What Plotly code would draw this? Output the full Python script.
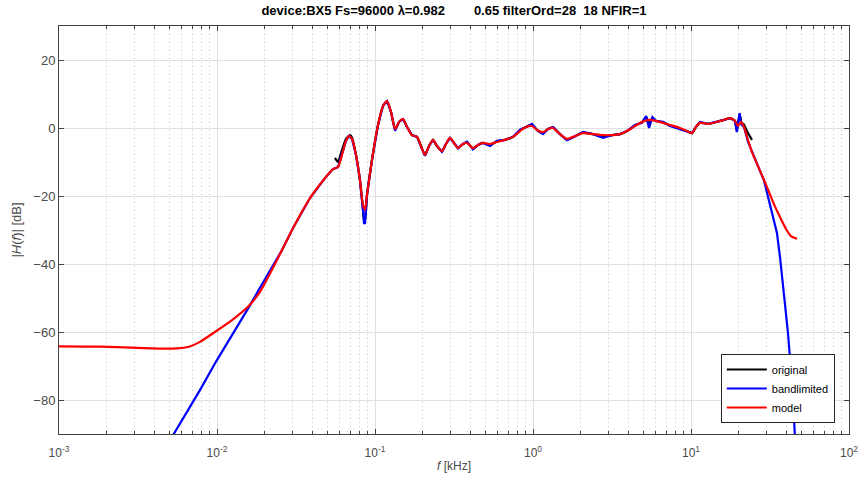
import plotly.graph_objects as go

# ---- data (frequency in kHz, magnitude in dB) ----
orig_f = [0.0558, 0.0583, 0.0618, 0.0655, 0.0695, 0.0715, 0.0758, 0.0803, 0.0839, 0.0852, 0.0865,
          0.0890, 0.0957, 0.1045, 0.1124, 0.1191, 0.1263, 0.1340, 0.142, 0.1504, 0.1595, 0.1715,
          0.1844, 0.1955, 0.2072, 0.2197, 0.2329, 0.2468, 0.2654, 0.2813, 0.2983, 0.3162, 0.3352,
          0.3605, 0.3821, 0.4169, 0.4484, 0.4823, 0.5349, 0.5916, 0.6651, 0.7472, 0.8279, 0.9032,
          0.9858, 1.06, 1.157, 1.245, 1.339, 1.483, 1.641, 1.845, 2.071, 2.398, 2.773, 3.162,
          3.555, 3.936, 4.426, 4.899, 5.2, 5.423, 5.7, 5.999, 6.65, 7.36, 8.51, 9.44, 10.15,
          10.75, 11.40, 12.82, 14.63, 16.19, 17.66, 18.98, 19.5, 20.3, 20.9, 21.64, 22.94, 24.32]
orig_db = [-8.8, -10.0, -6.5, -3.2, -2.1, -2.8, -7.9, -15.3, -24.0, -27.0, -27.0,
           -19.7, -9.4, 0.9, 6.5, 7.9, 4.7, -0.5, 1.8, 2.6, 0.3, -2.1,
           -2.6, -5.3, -8.0, -5.3, -3.5, -5.3, -6.9, -4.7, -2.9, -4.4, -5.9,
           -4.7, -4.2, -6.1, -5.0, -4.4, -5.0, -3.9, -3.5, -2.6, -0.7, 0.3,
           1.0, -0.6, -1.5, -0.3, 0.2, -1.8, -3.4, -2.4, -1.3, -1.8, -2.5, -2.1,
           -1.8, -0.9, 0.8, 1.7, 3.3, 1.0, 3.0, 2.1, 1.6, 0.8, -0.2, -0.9, -1.5,
           0.3, 1.6, 1.2, 1.8, 2.4, 2.9, 2.1, -0.8, 4.0, 1.5, 1.0, -1.5, -3.5]

band_f = [0.00505, 0.0078, 0.00986, 0.01245, 0.0162, 0.0187, 0.0258, 0.0303, 0.0388, 0.0483,
          0.0542, 0.0583, 0.0618, 0.0655, 0.0684, 0.0715, 0.0758, 0.0803, 0.0839, 0.0852, 0.0865,
          0.0878, 0.0890, 0.0957, 0.1045, 0.1124, 0.1191, 0.1263, 0.1340, 0.142, 0.1504, 0.1595,
          0.1715, 0.1844, 0.1955, 0.2072, 0.2197, 0.2329, 0.2468, 0.2654, 0.2813, 0.2983, 0.3162,
          0.3352, 0.3605, 0.3821, 0.4169, 0.4484, 0.4823, 0.5349, 0.5916, 0.6651, 0.7472, 0.8279,
          0.9032, 0.9858, 1.06, 1.157, 1.245, 1.339, 1.483, 1.641, 1.845, 2.071, 2.398, 2.773,
          3.162, 3.555, 3.936, 4.426, 4.899, 5.2, 5.423, 5.7, 5.999, 6.65, 7.36, 8.51, 9.44,
          10.15, 10.75, 11.40, 12.82, 14.63, 16.19, 17.66, 18.98, 19.5, 20.3, 20.9, 21.64, 22.94,
          24.32, 26.55, 29.0, 30.7, 32.6, 35.0, 36.6, 38.2, 39.9, 41.1, 42.3, 43.6, 45.5, 46.9]
band_db = [-91.8, -77.1, -68.7, -61.0, -52.1, -47.0, -35.9, -29.4, -20.6, -14.7,
           -12.1, -11.5, -7.9, -3.8, -2.4, -3.2, -7.9, -15.3, -24.0, -28.0, -28.0,
           -22.0, -19.7, -9.4, 0.9, 6.5, 7.9, 4.7, -0.8, 1.8, 2.6, 0.3,
           -2.1, -2.6, -5.3, -8.2, -5.3, -3.5, -5.3, -7.0, -4.7, -2.9, -4.4,
           -6.0, -4.7, -4.0, -6.3, -5.0, -4.4, -5.3, -3.8, -3.5, -2.6, -0.5,
           0.3, 1.2, -0.6, -1.8, -0.3, 0.3, -1.8, -3.6, -2.4, -1.2, -1.8, -2.9,
           -2.1, -1.8, -0.9, 0.9, 1.5, 3.5, 0.0, 3.2, 2.1, 1.8, 0.6, -0.3, -0.9,
           -1.5, 0.3, 1.8, 1.2, 1.8, 2.4, 2.9, 2.1, -1.2, 4.4, 1.0, 0.3, -4.0,
           -7.1, -11.2, -15.5, -20.0, -24.7, -30.9, -38.0, -45.6, -53.5, -60.3, -67.6, -75.0, -90.9, -100.0]

model_f = [0.001, 0.00182, 0.00377, 0.00519, 0.00655, 0.0078, 0.0097, 0.01245, 0.0157, 0.0187,
           0.0258, 0.0303, 0.0388, 0.0483, 0.0542, 0.0583, 0.0618, 0.0655, 0.0684, 0.0715, 0.0758,
           0.0803, 0.0839, 0.0865, 0.0890, 0.0957, 0.1045, 0.1124, 0.1191, 0.1263, 0.1340, 0.142,
           0.1504, 0.1595, 0.1715, 0.1844, 0.1955, 0.2072, 0.2197, 0.2329, 0.2468, 0.2654, 0.2813,
           0.2983, 0.3162, 0.3352, 0.3605, 0.3821, 0.4169, 0.4484, 0.4823, 0.5349, 0.5916, 0.6651,
           0.7472, 0.8279, 0.9032, 0.9858, 1.06, 1.157, 1.245, 1.339, 1.483, 1.641, 1.845, 2.071,
           2.398, 2.773, 3.162, 3.555, 3.936, 4.426, 4.899, 5.423, 5.999, 6.65, 7.36, 8.51, 9.44,
           10.15, 10.75, 11.40, 12.82, 14.63, 16.19, 17.66, 18.98, 19.83, 20.72, 21.64, 22.94,
           24.32, 26.55, 30.28, 33.50, 36.56, 39.92, 42.95, 46.9]
model_db = [-64.2, -64.3, -64.8, -64.9, -64.4, -62.9, -60.0, -56.5, -52.6, -48.2,
            -35.9, -29.4, -20.6, -14.7, -12.1, -11.5, -7.9, -3.8, -2.4, -3.2, -7.9,
            -15.3, -22.6, -24.1, -19.7, -9.4, 0.9, 6.5, 7.9, 4.7, -0.3, 1.8,
            2.6, 0.3, -2.1, -2.6, -5.3, -7.9, -5.3, -3.5, -5.3, -6.8, -4.7,
            -2.9, -4.4, -5.9, -4.7, -4.4, -5.9, -5.0, -4.4, -4.7, -4.1, -3.5,
            -2.6, -0.9, 0.3, 0.6, -0.6, -1.2, -0.3, 0.0, -1.8, -3.2, -2.4, -1.5,
            -1.8, -2.1, -2.1, -1.8, -0.9, 0.6, 1.8, 2.4, 2.1, 1.5, 0.9, 0.0, -0.9,
            -1.5, 0.3, 1.5, 1.2, 1.8, 2.4, 2.9, 2.1, 0.6, 1.8, 0.3, -3.5,
            -7.1, -11.2, -17.4, -22.4, -26.2, -29.7, -31.8, -32.6]

series_names = ["original", "bandlimited", "model"]
x_tick_vals = [0.001, 0.01, 0.1, 1, 10, 100]
x_tick_text = ["10<sup>-3</sup>", "10<sup>-2</sup>", "10<sup>-1</sup>",
               "10<sup>0</sup>", "10<sup>1</sup>", "10<sup>2</sup>"]
y_tick_vals = [-80, -60, -40, -20, 0, 20]
title_text = "device:BX5 Fs=96000 \u03bb=0.982        0.65 filterOrd=28  18 NFIR=1"

# minor (2..9 per decade) grid positions
minor_vals = [m * d for d in x_tick_vals[:-1] for m in range(2, 10)]

fig = go.Figure()
fig.add_trace(go.Scatter(x=orig_f, y=orig_db, mode="lines", name=series_names[0],
                         line=dict(color="#000000", width=2.2, shape="spline", smoothing=0.5)))
fig.add_trace(go.Scatter(x=band_f, y=band_db, mode="lines", name=series_names[1],
                         line=dict(color="#0000ff", width=2.2)))
fig.add_trace(go.Scatter(x=model_f, y=model_db, mode="lines", name=series_names[2],
                         line=dict(color="#ff0000", width=2.2, shape="spline", smoothing=0.6)))

axis_col = "#404040"
font_fam = "Liberation Sans, Arial, Helvetica, sans-serif"

fig.update_layout(
    width=863, height=486,
    margin=dict(l=59, r=14, t=26, b=52, autoexpand=False),
    paper_bgcolor="white", plot_bgcolor="white",
    font=dict(family=font_fam, size=12, color="#4a4a4a"),
    title=dict(text="<b>" + title_text + "</b>", xref="paper", x=0.5, xanchor="center",
               yref="container", y=0.978, yanchor="middle",
               font=dict(size=13, color="#000000")),
    showlegend=True,
    legend=dict(x=0.982, xanchor="right", y=0.027, yanchor="bottom",
                bgcolor="white", bordercolor="#262626", borderwidth=1,
                font=dict(size=11, color="#000000"), tracegroupgap=0,
                itemwidth=40),
)
fig.update_xaxes(
    type="log", range=[-3, 2], tickmode="array", tickvals=x_tick_vals, ticktext=x_tick_text,
    automargin=False,
    showline=True, linecolor=axis_col, linewidth=1, mirror="allticks",
    ticks="inside", ticklen=5, tickcolor=axis_col, ticklabelstandoff=8,
    showgrid=True, gridcolor="#e0e0e0", gridwidth=1, zeroline=False,
    minor=dict(tickmode="array", tickvals=minor_vals, ticks="inside", ticklen=3, tickcolor=axis_col,
               showgrid=True, gridcolor="#c8c8c8", griddash="1px,3px", gridwidth=1),
    title=dict(text="<i>f</i> [kHz]", standoff=2, font=dict(size=12, color="#4a4a4a")),
    tickfont=dict(size=12, color="#4a4a4a"),
)
fig.update_yaxes(
    range=[-90, 30], tickmode="array", tickvals=y_tick_vals,
    automargin=False,
    showline=True, linecolor=axis_col, linewidth=1, mirror="allticks",
    ticks="inside", ticklen=5, tickcolor=axis_col,
    showgrid=True, gridcolor="#e0e0e0", gridwidth=1, zeroline=False,
    title=dict(text="|<i>H</i>(<i>f</i>)| [dB]", standoff=8, font=dict(size=13, color="#4a4a4a")),
    tickfont=dict(size=13, color="#4a4a4a"),
)

fig.write_html("out.html", config={"displayModeBar": False},
               post_script="document.body.style.margin='0px';")
